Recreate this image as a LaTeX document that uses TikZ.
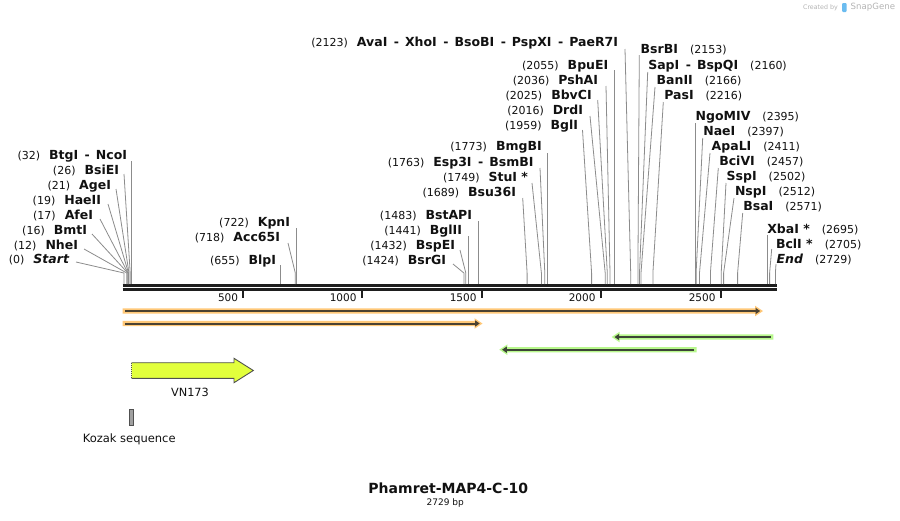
\documentclass[tikz,border=0pt]{standalone}
\usepackage{fontspec}
\setmainfont{DejaVu Sans}[ItalicFont={DejaVu Sans Oblique},BoldFont={DejaVu Sans Bold},BoldItalicFont={DejaVu Sans Bold Oblique}]
\usetikzlibrary{calc}
\definecolor{txt}{HTML}{111111}
\definecolor{cutc}{HTML}{8C8C8C}
\definecolor{bbc}{HTML}{1E1E1E}
\definecolor{oh}{HTML}{FFC878}
\definecolor{od}{HTML}{4B4232}
\definecolor{gh}{HTML}{B8F88C}
\definecolor{gd}{HTML}{3C4436}
\definecolor{vn}{HTML}{E2FF3C}
\definecolor{vnl}{HTML}{505050}
\definecolor{kz}{HTML}{A0A0A0}
\definecolor{logo}{HTML}{B4B4B4}
\definecolor{logob}{HTML}{6BBCF0}
\newcommand\nm[1]{{\fontsize{11}{12}\selectfont #1}}
\newcommand\bn[1]{{\fontsize{12.5}{14}\selectfont\bfseries #1}}
\newcommand\bi[1]{{\fontsize{12.5}{14}\selectfont\bfseries\itshape #1}}
\newcommand\sepd{\hspace{6.5pt}-\hspace{6pt}}
\newcommand\gapL{\hspace{9pt}}
\newcommand\gapR{\hspace{12pt}}
\tikzset{
  lbl/.style={inner sep=0pt, outer sep=0pt, text=txt},
  cut/.style={draw=cutc, line width=0.8pt},
  bbline/.style={draw=bbc, line width=2.6pt},
  tick/.style={draw=bbc, line width=2pt},
  ticklbl/.style={inner sep=0pt, text=txt, font=\fontsize{10.5}{12}\selectfont, anchor=base east},
}
% id, anchor, ax, cy, text, tx, ty, sx
\newcommand\cutsite[8]{%
  \node[lbl, anchor=#2] (l#1) at (#3,#4+4.4) {#5};
  \coordinate (t#1) at (#6,#7);
  \coordinate (k#1) at (#8,273);
  \coordinate (s#1) at (#8,284);
  \draw[cut] (t#1) -- (k#1) -- (s#1);
}
% rightward primer: y, start x, tip x, halo colour, dark colour
\newcommand\fwdprimer[5]{%
  \fill[#4] (#2,#1-2.6) -- (#3-8,#1-2.6) -- (#3-8,#1-5.3) -- (#3,#1) -- (#3-8,#1+5.3) -- (#3-8,#1+2.6) -- (#2,#1+2.6) -- cycle;
  \draw[#5, line width=2pt] (#2+2.5,#1) -- (#3-6,#1);
  \fill[#5] (#3-7.5,#1-3.2) -- (#3-2.8,#1) -- (#3-7.5,#1+3.2) -- cycle;
}
% leftward primer: y, end x (right), tip x, halo, dark
\newcommand\revprimer[5]{%
  \fill[#4] (#2,#1-2.6) -- (#3+8,#1-2.6) -- (#3+8,#1-5.3) -- (#3,#1) -- (#3+8,#1+5.3) -- (#3+8,#1+2.6) -- (#2,#1+2.6) -- cycle;
  \draw[#5, line width=2pt] (#2-2.5,#1) -- (#3+6,#1);
  \fill[#5] (#3+7.5,#1-3.2) -- (#3+2.8,#1) -- (#3+7.5,#1+3.2) -- cycle;
}
\begin{document}
\begin{tikzpicture}[x=1pt,y=-1pt]
\useasboundingbox (0,0) rectangle (900,520);
\fill[white] (0,0) rectangle (900,520);

% logo
\node[inner sep=0pt, anchor=east, text=logo, font=\fontsize{6.3}{7}\selectfont] (logoa) at (838,7.3) {Created by};
\fill[logob, rounded corners=1pt] (842,3) rectangle (846.5,12);
\node[inner sep=0pt, anchor=west, text=logo, font=\fontsize{8.6}{10}\selectfont] (logob) at (850.5,7.3) {SnapGene};

% backbone
\draw[bbline] (122.7,285.2) -- (776.7,285.2);
\draw[bbline] (122.7,289.4) -- (776.7,289.4);

% ticks
\foreach \tx/\tl in {243.3/500, 361.7/1000, 481.7/1500, 600.7/2000, 720.7/2500}{
  \draw[tick] (\tx,290.5) -- (\tx,297.5);
  \node[ticklbl] at (\tx-5,301) {\tl};
}

% left group
\cutsite{start}{base east}{69}{259}{\nm{(0)}\gapL\bi{Start}}{76}{262}{124.0}
\cutsite{nhe}{base east}{78}{245}{\nm{(12)}\gapL\bn{NheI}}{84}{249}{126.8}
\cutsite{bmt}{base east}{87}{230}{\nm{(16)}\gapL\bn{BmtI}}{92}{234}{127.8}
\cutsite{afe}{base east}{93}{215}{\nm{(17)}\gapL\bn{AfeI}}{100}{219}{128.0}
\cutsite{hae}{base east}{101}{200}{\nm{(19)}\gapL\bn{HaeII}}{108}{204}{128.5}
\cutsite{age}{base east}{111}{185}{\nm{(21)}\gapL\bn{AgeI}}{116}{189}{129.0}
\cutsite{bsie}{base east}{119}{170}{\nm{(26)}\gapL\bn{BsiEI}}{124}{174}{130.2}
\cutsite{btg}{base east}{127}{155}{\nm{(32)}\gapL\bn{BtgI\sepd NcoI}}{131.6}{161}{131.6}

% middle group
\cutsite{blp}{base east}{276}{260}{\nm{(655)}\gapL\bn{BlpI}}{280.3}{265}{280.3}
\cutsite{acc}{base east}{280}{237}{\nm{(718)}\gapL\bn{Acc65I}}{288}{243}{295.3}
\cutsite{kpn}{base east}{290}{222}{\nm{(722)}\gapL\bn{KpnI}}{296.3}{228}{296.3}
\cutsite{bsrg}{base east}{446}{260}{\nm{(1424)}\gapL\bn{BsrGI}}{453}{264}{463.9}
\cutsite{bspe}{base east}{455}{245}{\nm{(1432)}\gapL\bn{BspEI}}{460}{250}{465.8}
\cutsite{bgltwo}{base east}{462}{230}{\nm{(1441)}\gapL\bn{BglII}}{467.9}{236}{467.9}
\cutsite{bstap}{base east}{472}{215}{\nm{(1483)}\gapL\bn{BstAPI}}{477.9}{221}{477.9}
\cutsite{bsu}{base east}{516}{192}{\nm{(1689)}\gapL\bn{Bsu36I}}{522.7}{198}{527.1}
\cutsite{stu}{base east}{528}{177}{\nm{(1749)}\gapL\bn{StuI *}}{532}{183}{541.4}
\cutsite{esp}{base east}{533.5}{162}{\nm{(1763)}\gapL\bn{Esp3I\sepd BsmBI}}{540}{168}{544.8}
\cutsite{bmg}{base east}{541.7}{146}{\nm{(1773)}\gapL\bn{BmgBI}}{547.2}{153}{547.2}
\cutsite{bglone}{base east}{578}{125}{\nm{(1959)}\gapL\bn{BglI}}{582.5}{130}{591.6}
\cutsite{drd}{base east}{583}{110}{\nm{(2016)}\gapL\bn{DrdI}}{590}{116}{605.2}
\cutsite{bbv}{base east}{591.7}{95}{\nm{(2025)}\gapL\bn{BbvCI}}{597.7}{100}{607.3}
\cutsite{psh}{base east}{598}{80}{\nm{(2036)}\gapL\bn{PshAI}}{606}{86}{610.0}
\cutsite{bpu}{base east}{608.3}{65}{\nm{(2055)}\gapL\bn{BpuEI}}{614.5}{70}{614.5}
\cutsite{ava}{base east}{618}{42}{\nm{(2123)}\gapL\bn{AvaI\sepd XhoI\sepd BsoBI\sepd PspXI\sepd PaeR7I}}{625}{49}{630.7}

% right group
\cutsite{bsrb}{base west}{640.7}{49}{\bn{BsrBI}\gapR\nm{(2153)}}{639.3}{55}{637.9}
\cutsite{sap}{base west}{648.3}{65}{\bn{SapI\sepd BspQI}\gapR\nm{(2160)}}{647.7}{72}{639.5}
\cutsite{ban}{base west}{656.7}{80}{\bn{BanII}\gapR\nm{(2166)}}{655}{87}{641.0}
\cutsite{pas}{base west}{664.3}{95}{\bn{PasI}\gapR\nm{(2216)}}{663.3}{102}{652.9}
\cutsite{ngo}{base west}{695.7}{116}{\bn{NgoMIV}\gapR\nm{(2395)}}{695.6}{123}{695.6}
\cutsite{nae}{base west}{703.3}{131}{\bn{NaeI}\gapR\nm{(2397)}}{702.7}{138}{696.1}
\cutsite{apa}{base west}{711.7}{146}{\bn{ApaLI}\gapR\nm{(2411)}}{710}{153}{699.5}
\cutsite{bci}{base west}{719.3}{161}{\bn{BciVI}\gapR\nm{(2457)}}{718.3}{168}{710.4}
\cutsite{ssp}{base west}{726.7}{176}{\bn{SspI}\gapR\nm{(2502)}}{726}{183}{721.2}
\cutsite{nsp}{base west}{735}{191}{\bn{NspI}\gapR\nm{(2512)}}{734}{198}{723.6}
\cutsite{bsa}{base west}{743.3}{206}{\bn{BsaI}\gapR\nm{(2571)}}{742.7}{213}{737.6}
\cutsite{xba}{base west}{767.3}{229}{\bn{XbaI *}\gapR\nm{(2695)}}{767.2}{235}{767.2}
\cutsite{bcl}{base west}{776}{244}{\bn{BclI *}\gapR\nm{(2705)}}{771.7}{249}{769.6}
\cutsite{end}{base west}{776.7}{259}{\bi{End}\gapR\nm{(2729)}}{776}{264}{775.4}

% primers
\fwdprimer{311}{122.7}{763}{oh}{od}
\fwdprimer{323.5}{122.7}{482.5}{oh}{od}
\revprimer{337}{773.3}{611.7}{gh}{gd}
\revprimer{349.7}{696.7}{499.3}{gh}{gd}

% VN173 feature
\filldraw[fill=vn, draw=vnl, line width=0.9pt] (131.7,362.7) -- (234,362.7) -- (234,358.3) -- (253.3,370.5) -- (234,382.7) -- (234,378.3) -- (131.7,378.3);
\draw[vnl, line width=0.9pt, dash pattern=on 1pt off 1pt] (131.7,362.7) -- (131.7,378.3);
\node[inner sep=0pt, text=txt, font=\fontsize{11.3}{13}\selectfont] (vnlbl) at (190,392) {VN173};

% Kozak
\filldraw[fill=kz, draw=vnl, line width=0.8pt] (129.3,409) rectangle (133.3,425);
\node[inner sep=0pt, text=txt, font=\fontsize{11.5}{13}\selectfont] (kzlbl) at (129.2,439) {Kozak sequence};

% title
\node[inner sep=0pt, text=txt, font=\fontsize{14}{16}\selectfont\bfseries] (title) at (448.3,488.5) {Phamret-MAP4-C-10};
\node[inner sep=0pt, text=txt, font=\fontsize{9}{11}\selectfont] (bp) at (445.3,503.5) {2729 bp};
\end{tikzpicture}
\end{document}
